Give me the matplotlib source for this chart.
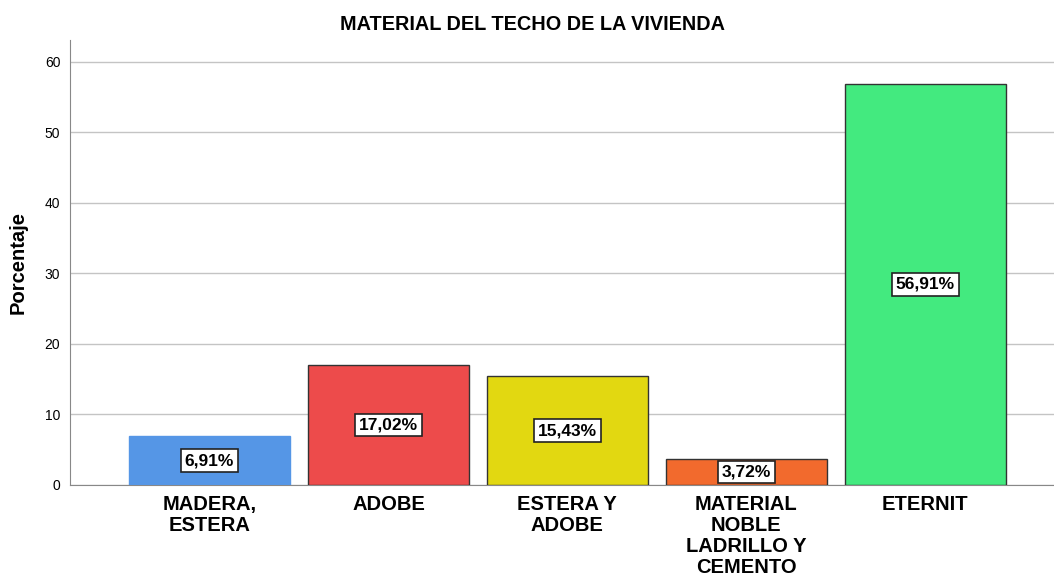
import matplotlib.pyplot as plt

categorias = ['MADERA,\nESTERA', 'ADOBE', 'ESTERA Y\nADOBE',
              'MATERIAL\nNOBLE\nLADRILLO Y\nCEMENTO', 'ETERNIT']
porcentajes = [6.91, 17.02, 15.43, 3.72, 56.91]
etiquetas = ['6,91%', '17,02%', '15,43%', '3,72%', '56,91%']
colores = ['#5596E6', '#ED4B4B', '#E2D811', '#F26A2D', '#43EA7F']
bordes = ['#5596E6', '#333333', '#333333', '#333333', '#333333']

plt.rcParams['font.family'] = ['Liberation Sans', 'DejaVu Sans']

fig = plt.figure(figsize=(10.54, 5.73), dpi=100)
ax = fig.add_axes([70 / 1054, 88 / 573, 984 / 1054, 445 / 573])

x = list(range(len(categorias)))
ax.bar(x, porcentajes, width=0.9, color=colores, edgecolor=bordes,
       linewidth=1, zorder=3)

for xi, v, t in zip(x, porcentajes, etiquetas):
    ax.text(xi, v / 2, t, ha='center', va='center', fontsize=12.5,
            fontweight='bold', zorder=4,
            bbox=dict(boxstyle='square,pad=0.22', fc='white', ec='#222222', lw=1.2))

ax.set_xlim(-0.78, 4.72)
ax.set_ylim(0, 63.1)
ax.set_yticks([0, 10, 20, 30, 40, 50, 60])
ax.yaxis.grid(True, color='#c4c4c4', linewidth=1, zorder=0)
ax.set_axisbelow(True)
ax.tick_params(axis='y', length=0, labelsize=10, pad=7)
ax.tick_params(axis='x', length=0, labelsize=14.5, pad=7)
ax.set_xticks(x)
ax.set_xticklabels(categorias, fontweight='bold', linespacing=1.13, va='top')

for s in ['top', 'right']:
    ax.spines[s].set_visible(False)
ax.spines['left'].set_color('#888888')
ax.spines['bottom'].set_color('#888888')

ax.set_ylabel('Porcentaje', fontsize=14.5, fontweight='bold', labelpad=12)
fig.text(532 / 1054, 1 - 25 / 573, 'MATERIAL DEL TECHO DE LA VIVIENDA',
         ha='center', va='center', fontsize=14.3, fontweight='bold')

fig.savefig('out.png', dpi=100)
